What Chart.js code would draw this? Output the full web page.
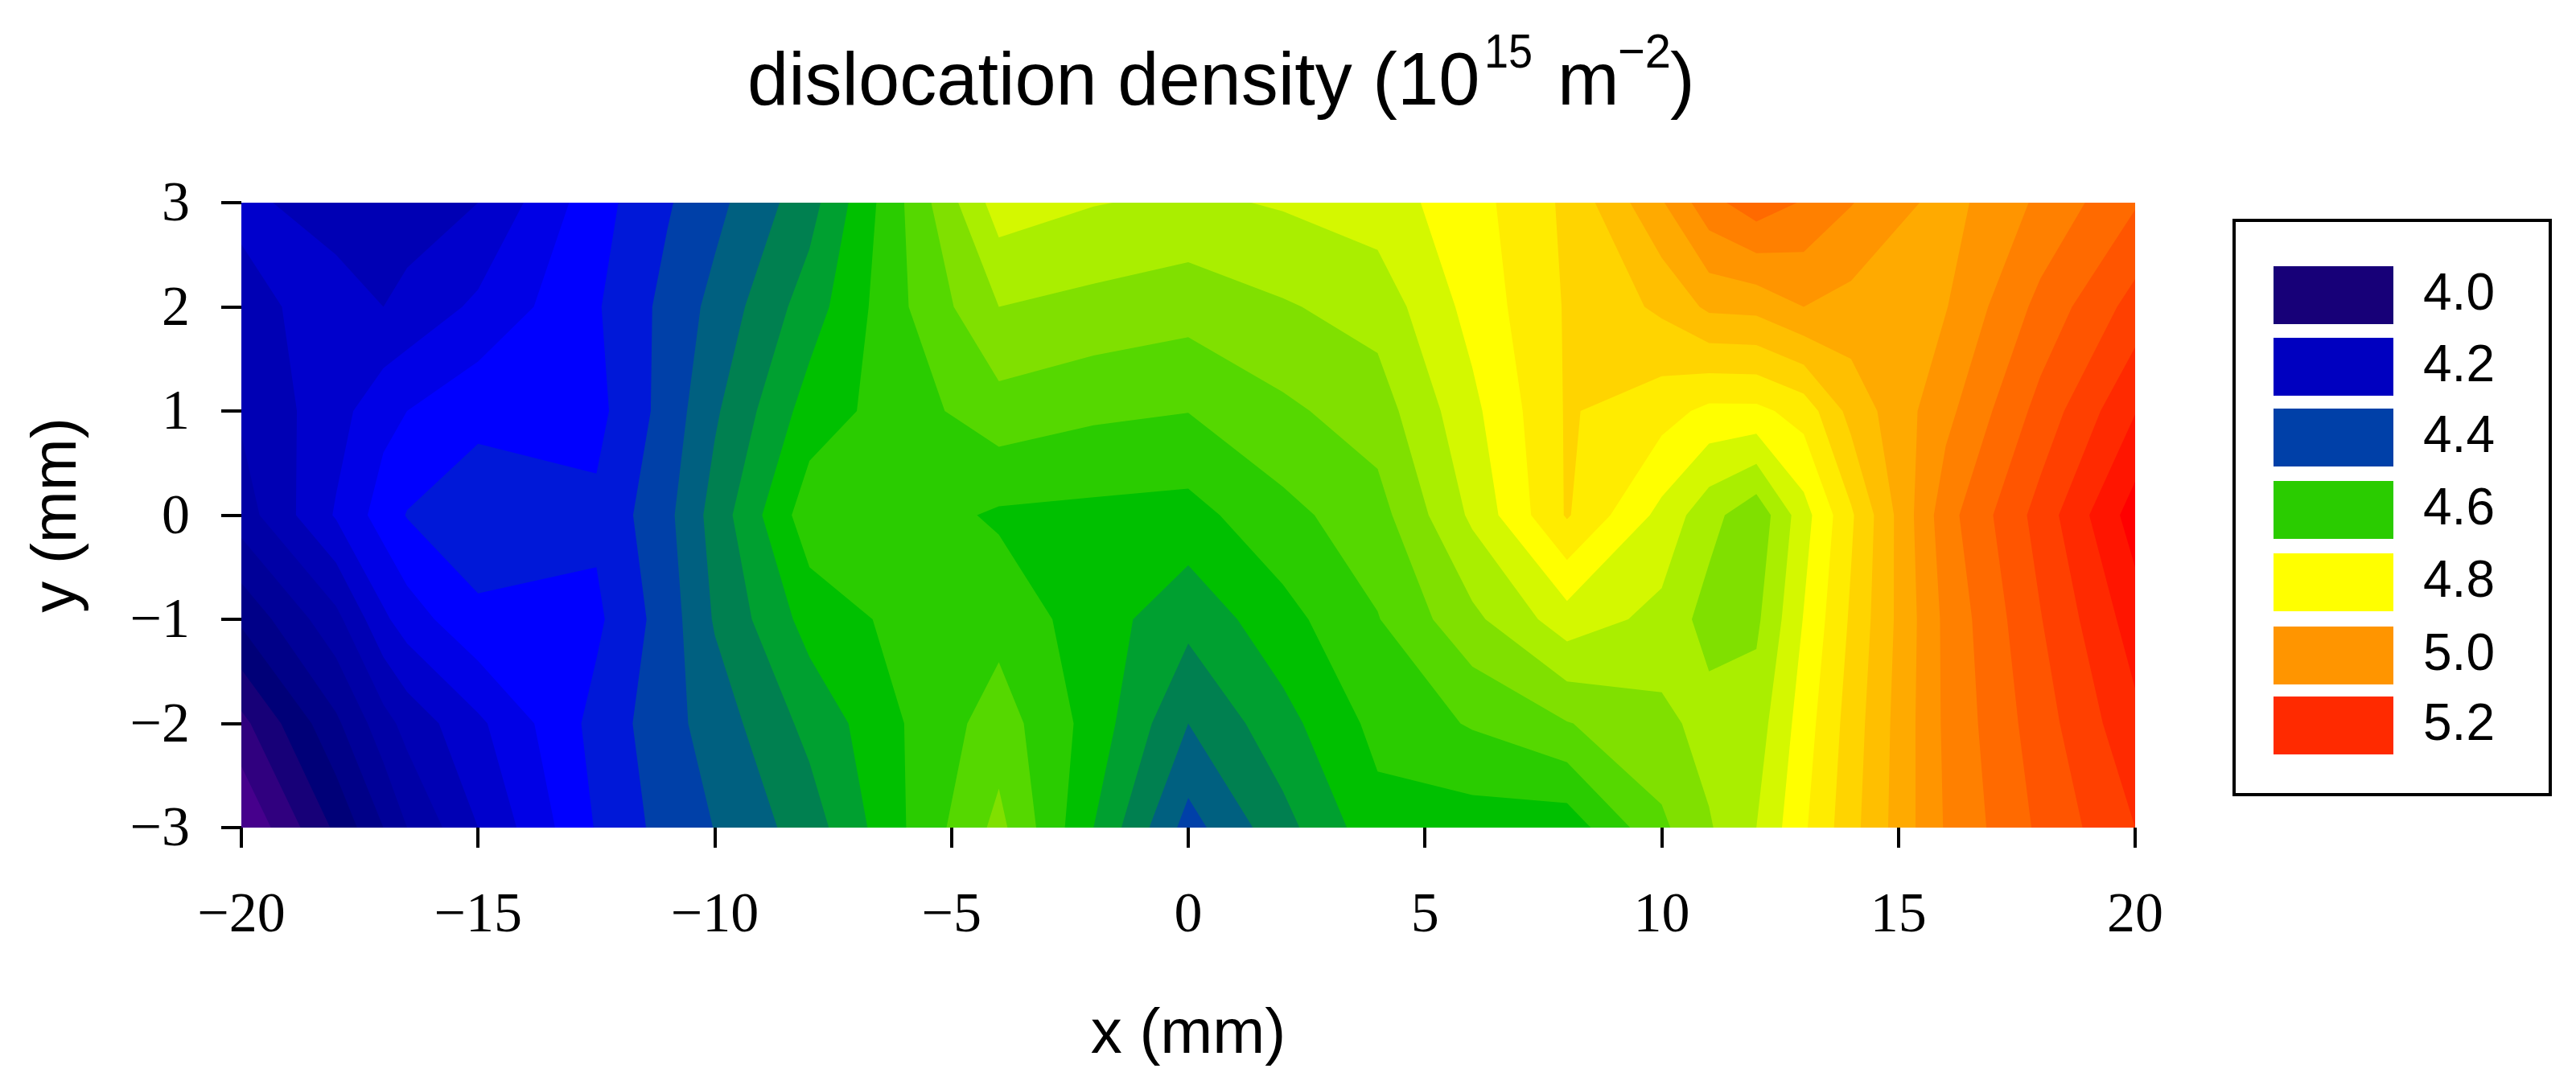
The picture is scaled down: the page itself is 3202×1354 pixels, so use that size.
<!DOCTYPE html>
<html>
<head>
<meta charset="utf-8">
<title>dislocation density</title>
<script src="https://cdn.jsdelivr.net/npm/chart.js@4/dist/chart.umd.js"></script>
<style>
  html, body { margin: 0; padding: 0; background: #fff; }
  canvas { display: block; }
</style>
</head>
<body>
<canvas id="chart" width="3202" height="1354"></canvas>
<script>
// grid the density was read on (mm)
const xGrid = [-20, -18, -17, -16.5, -15, -12.5, -11, -10, -8, -6, -4, -2, 0, 2, 4, 6, 8, 10, 11, 12, 13, 14, 16, 18, 20];
const yGrid = [3, 2, 1, 0, -1, -2, -3];

// density (10^15 m^-2), one row per y
const densityY3 = [4.248, 4.224, 4.222, 4.22, 4.24, 4.344, 4.396, 4.428, 4.504, 4.64, 4.78, 4.762, 4.752, 4.764, 4.78, 4.824, 4.888, 4.996, 5.066, 5.104, 5.076, 5.042, 4.984, 5.048, 5.116];
const densityY2 = [4.228, 4.256, 4.24, 4.252, 4.288, 4.356, 4.412, 4.452, 4.54, 4.636, 4.72, 4.708, 4.696, 4.716, 4.736, 4.814, 4.884, 4.928, 4.968, 4.972, 5.0, 4.986, 4.998, 5.092, 5.176];
const densityY1 = [4.206, 4.264, 4.308, 4.32, 4.349, 4.348, 4.416, 4.474, 4.578, 4.622, 4.664, 4.648, 4.641, 4.672, 4.7, 4.79, 4.884, 4.856, 4.83, 4.83, 4.856, 4.934, 5.028, 5.134, 5.238];
const densityY0 = [4.18, 4.284, 4.338, 4.362, 4.384, 4.368, 4.43, 4.496, 4.624, 4.62, 4.594, 4.59, 4.586, 4.628, 4.664, 4.768, 4.884, 4.788, 4.734, 4.692, 4.784, 4.874, 5.064, 5.176, 5.3];
const densityYm1 = [4.088, 4.188, 4.272, 4.3, 4.352, 4.352, 4.42, 4.484, 4.576, 4.612, 4.626, 4.58, 4.532, 4.586, 4.638, 4.71, 4.782, 4.748, 4.704, 4.712, 4.802, 4.886, 5.05, 5.158, 5.26];
const densityYm2 = [3.988, 4.112, 4.184, 4.214, 4.272, 4.373, 4.426, 4.458, 4.532, 4.6, 4.66, 4.584, 4.48, 4.546, 4.612, 4.644, 4.678, 4.708, 4.736, 4.74, 4.82, 4.898, 5.048, 5.142, 5.23];
const densityYm3 = [3.92, 4.048, 4.12, 4.16, 4.24, 4.363, 4.416, 4.441, 4.5, 4.598, 4.692, 4.56, 4.424, 4.506, 4.586, 4.58, 4.576, 4.672, 4.716, 4.76, 4.834, 4.906, 5.044, 5.128, 5.2];
const densityRows = [densityY3, densityY2, densityY1, densityY0, densityYm1, densityYm2, densityYm3];

// lower edge of each contour band and its colour
const bandLevels = [3.92, 3.96, 4.0, 4.04, 4.08, 4.12, 4.16, 4.2, 4.24, 4.28, 4.32, 4.36, 4.4, 4.44, 4.48, 4.52, 4.56, 4.6, 4.64, 4.68, 4.72, 4.76, 4.8, 4.84, 4.88, 4.92, 4.96, 5.0, 5.04, 5.08, 5.12, 5.16, 5.2, 5.24, 5.28];
const bandColors = ['#46008c', '#30007f', '#170078', '#000078', '#000088', '#000098', '#0000a6', '#0000b4', '#0000cc', '#0000e6', '#0000ff', '#0018d8', '#0040a8', '#006080', '#008050', '#00a030', '#00c000', '#2acc00', '#55d800', '#80e000', '#aaee00', '#d4f800', '#ffff00', '#ffec00', '#ffd400', '#ffbf00', '#ffaa00', '#ff9500', '#ff8000', '#ff6a00', '#ff5500', '#ff4000', '#ff2a00', '#ff1500', '#ff0000'];

const legendLabels = ['4.0', '4.2', '4.4', '4.6', '4.8', '5.0', '5.2'];
const legendColors = ['#170078', '#0000c0', '#0040a8', '#2acc00', '#ffff00', '#ff9500', '#ff2a00'];

// part of one grid cell where density >= level (corners in x, y, z)
function clipCell(corners, level) {
  const out = [];
  for (let i = 0; i < 4; i++) {
    const a = corners[i];
    const b = corners[(i + 1) % 4];
    if (a.z >= level) out.push(a);
    if ((a.z >= level) !== (b.z >= level)) {
      const t = (level - a.z) / (b.z - a.z);
      out.push({ x: a.x + t * (b.x - a.x), y: a.y + t * (b.y - a.y) });
    }
  }
  return out;
}

// Draws the filled contours through the chart's own scales
const contourPlugin = {
  id: 'contourBands',
  beforeDatasetsDraw(chart) {
    const { ctx, chartArea, scales } = chart;
    ctx.save();
    ctx.beginPath();
    ctx.rect(chartArea.left, chartArea.top, chartArea.width, chartArea.height);
    ctx.clip();
    bandLevels.forEach((level, n) => {
      ctx.beginPath();
      for (let r = 0; r < yGrid.length - 1; r++) {
        for (let c = 0; c < xGrid.length - 1; c++) {
          const poly = clipCell([
            { x: xGrid[c], y: yGrid[r], z: densityRows[r][c] },
            { x: xGrid[c + 1], y: yGrid[r], z: densityRows[r][c + 1] },
            { x: xGrid[c + 1], y: yGrid[r + 1], z: densityRows[r + 1][c + 1] },
            { x: xGrid[c], y: yGrid[r + 1], z: densityRows[r + 1][c] }
          ], n === 0 ? -Infinity : level);
          poly.forEach((p, i) => {
            const px = scales.x.getPixelForValue(p.x);
            const py = scales.y.getPixelForValue(p.y);
            if (i === 0) ctx.moveTo(px, py);
            else ctx.lineTo(px, py);
          });
          if (poly.length) ctx.closePath();
        }
      }
      ctx.fillStyle = bandColors[n];
      ctx.fill();
    });
    ctx.restore();
  },
  afterDraw(chart) {
    const { ctx } = chart;
    ctx.save();
    ctx.fillStyle = '#000';
    ctx.textBaseline = 'alphabetic';
    ctx.textAlign = 'left';
    // title with superscripts
    ctx.font = '92px "Liberation Sans"';
    ctx.fillText('dislocation density (10', 929, 130);
    ctx.fillText('m', 1936, 130);
    ctx.fillText(')', 2076, 130);
    ctx.font = '60px "Liberation Sans"';
    ctx.fillText('15', 1845, 84, 60);
    ctx.fillText('\u22122', 2011, 84, 66);
    // legend box
    ctx.strokeStyle = '#000';
    ctx.lineWidth = 4;
    ctx.strokeRect(2777, 274, 393, 714);
    const rowTops = [331, 420, 508, 598, 688, 779, 866];
    legendLabels.forEach((label, i) => {
      ctx.fillStyle = legendColors[i];
      ctx.fillRect(2826, rowTops[i], 149, 72);
      ctx.fillStyle = '#000';
      ctx.font = '64px "Liberation Sans"';
      ctx.textBaseline = 'middle';
      ctx.fillText(label, 3012, rowTops[i] + 36);
    });
    ctx.restore();
  }
};

const tickColor = '#000';
new Chart(document.getElementById('chart'), {
  type: 'scatter',
  data: {
    datasets: [{
      label: 'grid',
      data: yGrid.flatMap((y, r) => xGrid.map((x, c) => ({ x: x, y: y, z: densityRows[r][c] }))),
      pointRadius: 0,
      showLine: false
    }]
  },
  options: {
    responsive: false,
    animation: false,
    layout: { padding: { top: 252, right: 548, left: 0, bottom: 0 } },
    plugins: {
      legend: { display: false },
      title: { display: false },
      tooltip: { enabled: false }
    },
    scales: {
      x: {
        type: 'linear',
        min: -20,
        max: 20,
        afterFit(scale) { scale.height = 325; },
        border: { display: false },
        grid: { drawOnChartArea: false, color: tickColor, lineWidth: 4, tickLength: 25 },
        ticks: {
          stepSize: 5,
          color: '#000',
          padding: 44,
          maxRotation: 0,
          font: { family: '"Liberation Serif"', size: 70 },
          callback: v => String(v).replace('-', '\u2212')
        },
        title: {
          display: true,
          text: 'x (mm)',
          color: '#000',
          font: { family: '"Liberation Sans"', size: 78 },
          padding: { top: 0, bottom: 20 }
        }
      },
      y: {
        type: 'linear',
        min: -3,
        max: 3,
        afterFit(scale) { scale.width = 300; },
        border: { display: false },
        grid: { drawOnChartArea: false, color: tickColor, lineWidth: 4, tickLength: 25 },
        ticks: {
          stepSize: 1,
          color: '#000',
          padding: 39,
          labelOffset: 4,
          font: { family: '"Liberation Serif"', size: 70 },
          callback: v => String(v).replace('-', '\u2212')
        },
        title: {
          display: true,
          text: 'y (mm)',
          color: '#000',
          font: { family: '"Liberation Sans"', size: 78 },
          padding: { top: 26, bottom: 0 }
        }
      }
    }
  },
  plugins: [contourPlugin]
});
</script>
</body>
</html>
